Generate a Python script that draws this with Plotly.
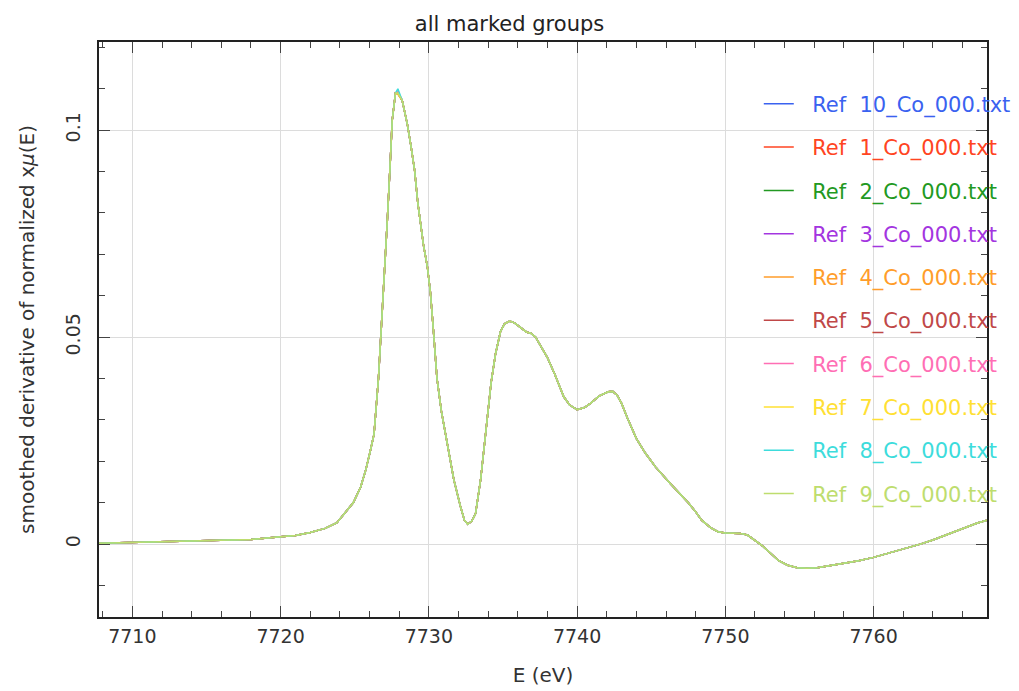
import plotly.graph_objects as go

# Energy grid (eV) and smoothed derivative of normalized x·mu(E)
energy = [
    7707.75, 7710.0, 7712.5, 7715.0, 7718.0, 7720.0, 7721.0, 7722.0, 7723.0, 7723.8,
    7724.4, 7724.9, 7725.4, 7725.75, 7726.05, 7726.3, 7726.6, 7726.9, 7727.2, 7727.37,
    7727.53, 7727.75, 7727.91, 7728.2, 7728.54, 7728.8, 7729.04, 7729.26, 7729.4, 7729.64,
    7729.9, 7730.1, 7730.3, 7730.55, 7730.85, 7731.1, 7731.35, 7731.69, 7732.14, 7732.4,
    7732.63, 7732.9, 7733.15, 7733.49, 7733.94, 7734.2, 7734.5, 7734.83, 7735.1, 7735.46,
    7735.8, 7736.2, 7736.6, 7736.86, 7737.2, 7737.98, 7738.5, 7739.1, 7739.5, 7740.0,
    7740.5, 7740.9, 7741.5, 7742.1, 7742.4, 7742.7, 7743.0, 7743.4, 7744.0, 7744.6,
    7745.3, 7746.3, 7747.0, 7747.5, 7748.0, 7748.4, 7749.0, 7749.5, 7750.0, 7751.0,
    7751.5, 7752.0, 7752.5, 7753.05, 7753.6, 7754.2, 7754.85, 7755.5, 7756.2, 7757.0,
    7758.0, 7759.0, 7760.0, 7761.0, 7762.0, 7763.15, 7764.0, 7765.0, 7766.0, 7767.0,
    7767.65,
]

dmu_common = [
    0.0002, 0.0004, 0.0005, 0.0007, 0.0011, 0.0018, 0.0021, 0.0028, 0.0038, 0.0052,
    0.0078, 0.0100, 0.0138, 0.0180, 0.0225, 0.0265, 0.0400, 0.0580, 0.0783, 0.0903,
    0.1024, 0.1090, 0.1095, 0.1072, 0.1016, 0.0960, 0.0903, 0.0823, 0.0783, 0.0722,
    0.0670, 0.0610, 0.0520, 0.0400, 0.0320, 0.0270, 0.0219, 0.0155, 0.0090, 0.0058,
    0.0048, 0.0056, 0.0074, 0.0155, 0.0304, 0.0390, 0.0460, 0.0513, 0.0532, 0.0539,
    0.0534, 0.0522, 0.0512, 0.0510, 0.0500, 0.0452, 0.0410, 0.0356, 0.0336, 0.0325,
    0.0330, 0.0340, 0.0358, 0.0368, 0.0369, 0.0360, 0.0340, 0.0304, 0.0255, 0.0220,
    0.0186, 0.0146, 0.0120, 0.0100, 0.0078, 0.0058, 0.0040, 0.0030, 0.0027, 0.0026,
    0.0022, 0.0010, -0.0004, -0.0022, -0.0040, -0.0051, -0.0057, -0.0058, -0.0057, -0.0052,
    -0.0046, -0.0040, -0.0032, -0.0022, -0.0012, 0.0000, 0.0010, 0.0024, 0.0038, 0.0051,
    0.0058,
]

PEAK_E = 7727.91

group_names = [
    "Ref  10_Co_000.txt", "Ref  1_Co_000.txt", "Ref  2_Co_000.txt", "Ref  3_Co_000.txt",
    "Ref  4_Co_000.txt", "Ref  5_Co_000.txt", "Ref  6_Co_000.txt", "Ref  7_Co_000.txt",
    "Ref  8_Co_000.txt", "Ref  9_Co_000.txt",
]

# white-line derivative maximum of each group
peak_heights = [0.1092, 0.1088, 0.1090, 0.1091, 0.1087, 0.1089, 0.1093, 0.1088, 0.1100, 0.1090]

group_colors = [
    "#3a62f0", "#ff4422", "#229922", "#a335e0", "#ff9d2a",
    "#c04848", "#ff6eb4", "#ffe033", "#3ddcdc", "#bedd6e",
]

FONT = "DejaVu Sans"
NBSP = "\u00a0"

fig = go.Figure()
peak_idx = energy.index(PEAK_E)
for name, color, top in zip(group_names, group_colors, peak_heights):
    values = list(dmu_common)
    values[peak_idx] = top
    label = NBSP * 2 + name.replace(" ", NBSP)
    fig.add_trace(go.Scatter(
        x=energy, y=values, mode="lines",
        line=dict(color=color, width=1.5),
        name=f'<span style="color:{color}">{label}</span>',
        legendgroup=name,
    ))

axis_common = dict(
    showline=True, linecolor="#222222", linewidth=1.5, mirror="allticks",
    ticks="inside", ticklen=11, tickcolor="#444444", tickwidth=1,
    showgrid=True, gridcolor="#dcdcdc", gridwidth=1, zeroline=False,
    tickfont=dict(family=FONT, size=19, color="#333333"),
    automargin=False,
)

fig.update_xaxes(
    range=[7707.75, 7767.65], dtick=10, tick0=7710,
    minor=dict(ticks="inside", ticklen=6, dtick=2, tick0=7710, tickcolor="#444444", showgrid=False),
    ticklabelstandoff=1,
    title=dict(text="E (eV)", font=dict(family=FONT, size=20, color="#333333"), standoff=22),
    **axis_common,
)
fig.update_yaxes(
    range=[-0.0176, 0.1213], tickvals=[0, 0.05, 0.1], ticktext=["0", "0.05", "0.1"],
    tickangle=-90, ticklabelstandoff=10,
    minor=dict(ticks="inside", ticklen=6, dtick=0.01, tick0=0, tickcolor="#444444", showgrid=False),
    title=dict(text="smoothed derivative of normalized x<i>μ</i>(E)",
               font=dict(family=FONT, size=20, color="#333333"), standoff=22),
    **axis_common,
)

fig.update_layout(
    width=1019, height=691,
    paper_bgcolor="white", plot_bgcolor="white",
    margin=dict(l=99, r=32, t=42, b=74, autoexpand=False),
    title=dict(text="all marked groups", x=0.5, xanchor="center", y=0.966, yanchor="middle",
               font=dict(family=FONT, size=21, color="#222222")),
    showlegend=True,
    legend=dict(
        x=0.743, y=0.9276, xanchor="left", yanchor="top",
        bgcolor="rgba(0,0,0,0)", borderwidth=0,
        font=dict(family=FONT, size=21),
        tracegroupgap=13, itemwidth=30,
    ),
)

fig.write_html("out.html")
